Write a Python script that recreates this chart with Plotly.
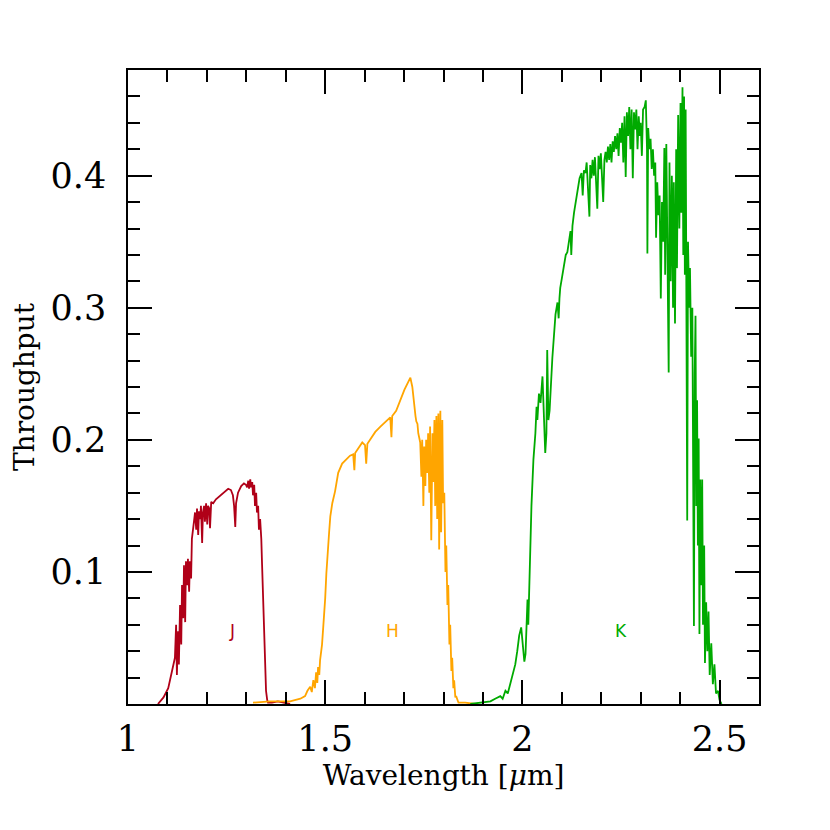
import plotly.graph_objects as go

# J band throughput
J_wave = [1.076, 1.090, 1.102, 1.112, 1.119, 1.122, 1.124, 1.127, 1.129, 1.132,
          1.135, 1.137, 1.140, 1.142, 1.145, 1.147, 1.150, 1.152, 1.155, 1.157,
          1.160, 1.162, 1.165, 1.168, 1.170, 1.173, 1.175, 1.178, 1.180, 1.183,
          1.185, 1.188, 1.190, 1.193, 1.195, 1.198, 1.201, 1.203, 1.206, 1.208,
          1.211, 1.216, 1.223, 1.234, 1.244, 1.254, 1.261, 1.266, 1.269, 1.272,
          1.274, 1.279, 1.287, 1.294, 1.299, 1.302, 1.305, 1.307, 1.310, 1.312,
          1.315, 1.317, 1.320, 1.322, 1.325, 1.327, 1.330, 1.332, 1.335, 1.338,
          1.340, 1.343, 1.345, 1.348, 1.350, 1.353, 1.355, 1.365, 1.380, 1.411]
J_thru = [0.000, 0.005, 0.012, 0.025, 0.035, 0.060, 0.022, 0.055, 0.030, 0.075,
          0.045, 0.090, 0.065, 0.105, 0.062, 0.108, 0.090, 0.110, 0.085, 0.108,
          0.095, 0.125, 0.135, 0.140, 0.145, 0.132, 0.148, 0.128, 0.146, 0.140,
          0.150, 0.122, 0.145, 0.150, 0.138, 0.152, 0.136, 0.150, 0.148, 0.133,
          0.153, 0.152, 0.155, 0.158, 0.161, 0.163, 0.162, 0.158, 0.150, 0.134,
          0.152, 0.160, 0.165, 0.167, 0.166, 0.164, 0.169, 0.163, 0.170, 0.164,
          0.168, 0.158, 0.166, 0.150, 0.160, 0.145, 0.150, 0.132, 0.140, 0.125,
          0.105, 0.075, 0.045, 0.025, 0.010, 0.003, 0.001, 0.001, 0.002, 0.000]

# H band throughput
H_wave = [1.317, 1.360, 1.411, 1.437, 1.449, 1.455, 1.462, 1.466, 1.470, 1.474,
          1.477, 1.480, 1.482, 1.485, 1.487, 1.490, 1.492, 1.495, 1.497, 1.500,
          1.503, 1.505, 1.508, 1.510, 1.513, 1.518, 1.525, 1.533, 1.543, 1.556,
          1.563, 1.571, 1.574, 1.576, 1.584, 1.594, 1.601, 1.604, 1.607, 1.614,
          1.627, 1.640, 1.652, 1.665, 1.668, 1.670, 1.680, 1.690, 1.701, 1.711,
          1.716, 1.721, 1.724, 1.726, 1.729, 1.731, 1.734, 1.736, 1.739, 1.741,
          1.744, 1.746, 1.749, 1.751, 1.754, 1.756, 1.759, 1.761, 1.764, 1.766,
          1.769, 1.772, 1.774, 1.777, 1.779, 1.782, 1.784, 1.787, 1.789, 1.792,
          1.794, 1.797, 1.799, 1.802, 1.805, 1.807, 1.810, 1.812, 1.815, 1.817,
          1.820, 1.822, 1.825, 1.827, 1.830, 1.832, 1.838, 1.855, 1.881]
H_thru = [0.001, 0.002, 0.002, 0.004, 0.006, 0.010, 0.013, 0.009, 0.018, 0.012,
          0.024, 0.016, 0.028, 0.022, 0.033, 0.040, 0.045, 0.058, 0.066, 0.080,
          0.099, 0.110, 0.122, 0.130, 0.142, 0.152, 0.161, 0.175, 0.182, 0.186,
          0.188, 0.189, 0.177, 0.190, 0.194, 0.198, 0.196, 0.182, 0.197, 0.200,
          0.206, 0.210, 0.213, 0.217, 0.202, 0.218, 0.222, 0.230, 0.238, 0.244,
          0.247, 0.240, 0.230, 0.225, 0.218, 0.214, 0.212, 0.205, 0.200, 0.198,
          0.172, 0.200, 0.150, 0.195, 0.165, 0.200, 0.175, 0.205, 0.160, 0.210,
          0.124, 0.205, 0.168, 0.215, 0.150, 0.218, 0.140, 0.220, 0.117, 0.222,
          0.130, 0.215, 0.152, 0.160, 0.100, 0.120, 0.075, 0.090, 0.045, 0.060,
          0.025, 0.035, 0.012, 0.018, 0.005, 0.006, 0.001, 0.001, 0.000]

# K band throughput
K_wave = [1.868, 1.893, 1.919, 1.931, 1.944, 1.950, 1.957, 1.963, 1.970, 1.976,
          1.982, 1.987, 1.992, 1.997, 2.000, 2.005, 2.008, 2.011, 2.013, 2.015,
          2.019, 2.023, 2.028, 2.033, 2.036, 2.038, 2.042, 2.046, 2.051, 2.055,
          2.058, 2.061, 2.063, 2.066, 2.069, 2.076, 2.080, 2.084, 2.089, 2.092,
          2.094, 2.096, 2.100, 2.104, 2.110, 2.114, 2.118, 2.122, 2.124, 2.127,
          2.131, 2.135, 2.140, 2.145, 2.150, 2.153, 2.156, 2.160, 2.163, 2.166,
          2.170, 2.172, 2.175, 2.178, 2.181, 2.184, 2.187, 2.190, 2.193, 2.196,
          2.199, 2.202, 2.205, 2.208, 2.211, 2.214, 2.217, 2.220, 2.223, 2.226,
          2.229, 2.232, 2.235, 2.238, 2.241, 2.244, 2.247, 2.250, 2.253, 2.256,
          2.259, 2.262, 2.265, 2.268, 2.271, 2.274, 2.277, 2.280, 2.283, 2.286,
          2.289, 2.292, 2.295, 2.298, 2.300, 2.303, 2.306, 2.310, 2.313, 2.316,
          2.317, 2.319, 2.322, 2.325, 2.328, 2.331, 2.334, 2.337, 2.339, 2.342,
          2.345, 2.348, 2.351, 2.354, 2.357, 2.360, 2.362, 2.365, 2.368, 2.371,
          2.373, 2.376, 2.379, 2.382, 2.384, 2.387, 2.390, 2.392, 2.395, 2.398,
          2.401, 2.403, 2.406, 2.408, 2.410, 2.412, 2.414, 2.416, 2.418, 2.420,
          2.423, 2.425, 2.428, 2.431, 2.433, 2.435, 2.437, 2.439, 2.441, 2.443,
          2.445, 2.447, 2.449, 2.451, 2.454, 2.456, 2.458, 2.461, 2.463, 2.466,
          2.469, 2.472, 2.475, 2.479, 2.483, 2.487, 2.491, 2.496, 2.500, 2.505]
K_thru = [0.000, 0.001, 0.002, 0.004, 0.006, 0.004, 0.010, 0.008, 0.016, 0.022,
          0.030, 0.040, 0.052, 0.058, 0.050, 0.032, 0.038, 0.056, 0.079, 0.060,
          0.110, 0.150, 0.185, 0.205, 0.225, 0.215, 0.235, 0.228, 0.248, 0.215,
          0.190, 0.205, 0.268, 0.215, 0.222, 0.262, 0.280, 0.295, 0.304, 0.292,
          0.307, 0.315, 0.322, 0.330, 0.340, 0.342, 0.352, 0.358, 0.340, 0.362,
          0.372, 0.380, 0.390, 0.398, 0.402, 0.385, 0.404, 0.402, 0.410, 0.392,
          0.369, 0.408, 0.398, 0.412, 0.400, 0.414, 0.395, 0.375, 0.415, 0.405,
          0.417, 0.400, 0.380, 0.412, 0.418, 0.410, 0.422, 0.412, 0.424, 0.410,
          0.426, 0.418, 0.430, 0.420, 0.432, 0.415, 0.436, 0.425, 0.440, 0.410,
          0.445, 0.399, 0.448, 0.430, 0.452, 0.420, 0.450, 0.398, 0.448, 0.435,
          0.450, 0.420, 0.445, 0.430, 0.440, 0.415, 0.450, 0.452, 0.457, 0.420,
          0.341, 0.436, 0.420, 0.428, 0.405, 0.420, 0.400, 0.410, 0.353, 0.395,
          0.370, 0.385, 0.307, 0.380, 0.350, 0.421, 0.325, 0.424, 0.340, 0.251,
          0.410, 0.320, 0.400, 0.300, 0.395, 0.288, 0.420, 0.330, 0.446, 0.360,
          0.455, 0.372, 0.467, 0.340, 0.460, 0.325, 0.450, 0.170, 0.139, 0.350,
          0.300, 0.330, 0.263, 0.300, 0.200, 0.059, 0.250, 0.294, 0.150, 0.230,
          0.120, 0.201, 0.053, 0.170, 0.090, 0.170, 0.060, 0.120, 0.031, 0.077,
          0.040, 0.070, 0.022, 0.046, 0.015, 0.030, 0.008, 0.010, 0.003, 0.000]

band_names = ["J", "H", "K"]
band_colors = ["#b00018", "#ffa500", "#00aa00"]
label_x = [1.264, 1.670, 2.251]
label_y = [0.055, 0.055, 0.055]

fig = go.Figure()

for name, wave, thru, color in zip(band_names, [J_wave, H_wave, K_wave],
                                    [J_thru, H_thru, K_thru], band_colors):
    fig.add_trace(go.Scatter(
        x=wave, y=thru, mode='lines', name=name,
        line=dict(color=color, width=1.8),
    ))

# band labels
for name, lx, ly, color in zip(band_names, label_x, label_y, band_colors):
    fig.add_annotation(
        x=lx, y=ly, text=name, showarrow=False,
        font=dict(family="DejaVu Sans", size=17, color=color),
    )

serif = "DejaVu Serif"

fig.update_layout(
    width=830, height=830,
    margin=dict(l=120, r=79, t=62, b=134),
    paper_bgcolor='white', plot_bgcolor='white',
    showlegend=False,
    font=dict(family=serif, color='black'),
)

fig.update_xaxes(
    range=[1, 2.6],
    tickvals=[1, 1.5, 2, 2.5], ticktext=["1", "1.5", "2", "2.5"],
    ticks='inside', ticklen=24, tickwidth=1.5, tickcolor='black',
    minor=dict(dtick=0.1, tick0=1, ticks='inside', ticklen=12,
               tickwidth=1.5, tickcolor='black'),
    showline=True, linecolor='black', linewidth=1.5, mirror='ticks',
    showgrid=False, zeroline=False,
    tickfont=dict(family=serif, size=35),
    ticklabelstandoff=3,
    title=dict(text="Wavelength [<i>μ</i>m]", font=dict(family=serif, size=28),
               standoff=2),
)

fig.update_yaxes(
    range=[0, 0.48],
    tickvals=[0.1, 0.2, 0.3, 0.4], ticktext=["0.1", "0.2", "0.3", "0.4"],
    ticks='inside', ticklen=24, tickwidth=1.5, tickcolor='black',
    minor=dict(dtick=0.02, tick0=0, ticks='inside', ticklen=12,
               tickwidth=1.5, tickcolor='black'),
    showline=True, linecolor='black', linewidth=1.5, mirror='ticks',
    showgrid=False, zeroline=False,
    tickfont=dict(family=serif, size=35),
    ticklabelstandoff=13,
    title=dict(text="Throughput", font=dict(family=serif, size=28),
               standoff=12),
)

fig.write_html("out.html")
